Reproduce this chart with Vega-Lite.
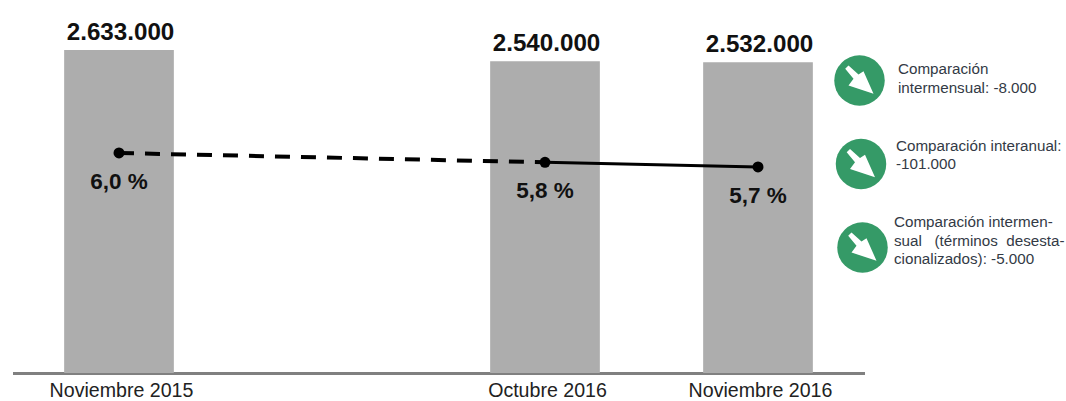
{"$schema":"https://vega.github.io/schema/vega-lite/v6.json","width":1054,"height":373,"autosize":"none","padding":{"left":12.5,"top":0,"right":0,"bottom":28},"background":"white","view":{"stroke":null},
"datasets":{"periodos":[{"periodo":"Noviembre 2015","ocupados":2633000,"ocupadosTexto":"2.633.000","tasa":6.0,"tasaTexto":"6,0 %"},{"periodo":"Octubre 2016","ocupados":2540000,"ocupadosTexto":"2.540.000","tasa":5.8,"tasaTexto":"5,8 %"},{"periodo":"Noviembre 2016","ocupados":2532000,"ocupadosTexto":"2.532.000","tasa":5.7,"tasaTexto":"5,7 %"}],
"comparaciones":[{"indicador":"a","variacion":-8000,"texto":["Comparación","intermensual: -8.000"]},{"indicador":"b","variacion":-101000,"texto":["Comparación interanual:","-101.000"]},{"indicador":"c","variacion":-5000,"texto":["Comparación intermen-","sual\u00a0\u00a0\u00a0(términos\u00a0\u00a0desesta-","cionalizados): -5.000"]}]},
"layer":[
{"data":{"name":"periodos"},"mark":{"type":"bar","color":"#adadad"},"encoding":{"x":{"field":"periodo","type":"nominal","sort":null,"scale":{"type":"band","domain":["Noviembre 2015"," ","Octubre 2016","Noviembre 2016"],"range":[0,852],"paddingInner":0.485,"paddingOuter":0.2425},"axis":{"title":null,"labelAngle":0,"labelFont":"Liberation Sans","labelFontSize":19.6,"labelColor":"#222222","labelPadding":8,"labelOffset":2.5,"ticks":false,"domainColor":"#808080","domainWidth":3,"grid":false}},"y":{"field":"ocupados","type":"quantitative","scale":{"domain":[0,3040000]},"axis":null}}},
{"data":{"name":"periodos"},"mark":{"type":"text","font":"Liberation Sans","fontWeight":"bold","fontSize":24.2,"color":"#111111","baseline":"bottom","dy":-5,"dx":1.5},"encoding":{"x":{"field":"periodo","type":"nominal","bandPosition":0.5,"scale":{"type":"band","domain":["Noviembre 2015"," ","Octubre 2016","Noviembre 2016"],"range":[0,852],"paddingInner":0.485,"paddingOuter":0.2425},"axis":null},"y":{"field":"ocupados","type":"quantitative","scale":{"domain":[0,3040000]},"axis":null},"text":{"field":"ocupadosTexto"}}},
{"data":{"name":"periodos"},"transform":[{"filter":"datum.periodo !== 'Noviembre 2016'"}],"mark":{"type":"line","color":"black","strokeWidth":4,"strokeDash":[15,11]},"encoding":{"x":{"field":"periodo","type":"nominal","bandPosition":0.5,"scale":{"type":"band","domain":["Noviembre 2015"," ","Octubre 2016","Noviembre 2016"],"range":[0,852],"paddingInner":0.485,"paddingOuter":0.2425},"axis":null},"y":{"field":"tasa","type":"quantitative","scale":{"domain":[1.286,9.278]},"axis":null}}},
{"data":{"name":"periodos"},"transform":[{"filter":"datum.periodo !== 'Noviembre 2015'"}],"mark":{"type":"line","color":"black","strokeWidth":3},"encoding":{"x":{"field":"periodo","type":"nominal","bandPosition":0.5,"scale":{"type":"band","domain":["Noviembre 2015"," ","Octubre 2016","Noviembre 2016"],"range":[0,852],"paddingInner":0.485,"paddingOuter":0.2425},"axis":null},"y":{"field":"tasa","type":"quantitative","scale":{"domain":[1.286,9.278]},"axis":null}}},
{"data":{"name":"periodos"},"mark":{"type":"point","filled":true,"color":"black","opacity":1,"size":120},"encoding":{"x":{"field":"periodo","type":"nominal","bandPosition":0.5,"scale":{"type":"band","domain":["Noviembre 2015"," ","Octubre 2016","Noviembre 2016"],"range":[0,852],"paddingInner":0.485,"paddingOuter":0.2425},"axis":null},"y":{"field":"tasa","type":"quantitative","scale":{"domain":[1.286,9.278]},"axis":null}}},
{"data":{"name":"periodos"},"mark":{"type":"text","font":"Liberation Sans","fontWeight":"bold","fontSize":22.5,"color":"#111111","baseline":"middle","dy":29},"encoding":{"x":{"field":"periodo","type":"nominal","bandPosition":0.5,"scale":{"type":"band","domain":["Noviembre 2015"," ","Octubre 2016","Noviembre 2016"],"range":[0,852],"paddingInner":0.485,"paddingOuter":0.2425},"axis":null},"y":{"field":"tasa","type":"quantitative","scale":{"domain":[1.286,9.278]},"axis":null},"text":{"field":"tasaTexto"}}},
{"data":{"name":"comparaciones"},"mark":{"type":"point","filled":true,"shape":"circle","color":"#359a67","opacity":1,"size":2550},"encoding":{"x":{"field":"indicador","type":"nominal","scale":{"type":"point","range":[847,850],"padding":0},"axis":null},"y":{"field":"indicador","type":"nominal","scale":{"type":"point","range":[80.5,247.5],"padding":0},"axis":null}}},
{"data":{"name":"comparaciones"},"mark":{"type":"point","filled":true,"shape":"M1.4,1.33 L-1.1,0.5 L-0.6,-0.17 L-1.43,-1.17 L-1.1,-1.5 L-0.1,-0.6 L0.4,-0.93 Z","color":"white","opacity":1,"size":400},"encoding":{"x":{"field":"indicador","type":"nominal","scale":{"type":"point","range":[847,850],"padding":0},"axis":null},"y":{"field":"indicador","type":"nominal","scale":{"type":"point","range":[80.5,247.5],"padding":0},"axis":null}}},
{"data":{"name":"comparaciones"},"mark":{"type":"text","font":"Liberation Sans","fontSize":15.2,"color":"#333a45","align":"left","baseline":"middle","lineHeight":18.5},"encoding":{"x":{"field":"indicador","type":"nominal","scale":{"type":"point","range":[885.5,881.5],"padding":0},"axis":null},"y":{"field":"indicador","type":"nominal","scale":{"type":"point","range":[69,222],"padding":0},"axis":null},"text":{"field":"texto"}}}
],
"resolve":{"scale":{"x":"independent","y":"independent"}}}
